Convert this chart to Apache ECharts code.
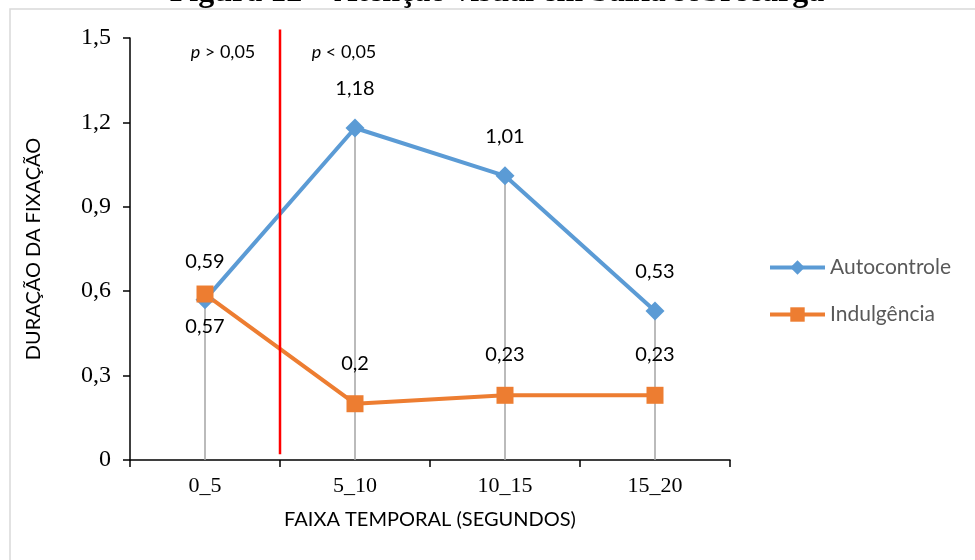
<!DOCTYPE html>
<html><head><meta charset="utf-8">
<script src="https://cdn.jsdelivr.net/npm/echarts@6/dist/echarts.min.js"></script>
<style>html,body{margin:0;padding:0;background:#fff}#c{width:975px;height:560px}</style>
</head><body><div id="c"></div>
<script>
const categories = ['0_5', '5_10', '10_15', '15_20'];
const autocontrole = [0.57, 1.18, 1.01, 0.53];
const indulgencia = [0.59, 0.2, 0.23, 0.23];
const yTicks = [0, 0.3, 0.6, 0.9, 1.2, 1.5];
const boundaryPos = 1; // red divider between 0_5 and 5_10
const dividerRange = [0.02, 1.53];

const fmt = v => String(v).replace('.', ',');
const dropVals = categories.map((c, i) => Math.max(autocontrole[i], indulgencia[i]));
const sans = 'Lato';
const serif = '"Liberation Serif", "Times New Roman", serif';

const chart = echarts.init(document.getElementById('c'), null, {renderer: 'canvas'});
chart.setOption({
  animation: false,
  backgroundColor: '#fff',
  graphic: [
    {type: 'rect', shape: {x: 10, y: 9, width: 1100, height: 700}, style: {fill: 'none', stroke: '#d9d9d9', lineWidth: 1.5}, z: 0},
    {type: 'text', x: 497, y: 9, style: {text: 'Figura 12 – Atenção visual em baixa sobrecarga', font: 'bold 32px ' + serif, fill: '#000', align: 'center', verticalAlign: 'bottom'}},
    {type: 'text', x: 223, y: 52, style: {text: '{i|p} > 0,05', rich: {i: {fontStyle: 'italic', fontFamily: sans, fontSize: 18, fill: '#000'}}, fontFamily: sans, fontSize: 18, fill: '#000', align: 'center', verticalAlign: 'middle'}},
    {type: 'text', x: 344, y: 52, style: {text: '{i|p} < 0,05', rich: {i: {fontStyle: 'italic', fontFamily: sans, fontSize: 18, fill: '#000'}}, fontFamily: sans, fontSize: 18, fill: '#000', align: 'center', verticalAlign: 'middle'}}
  ],
  grid: {left: 130, right: 245, top: 38, bottom: 100},
  legend: {
    orient: 'vertical', left: 763, top: 252, itemWidth: 55, itemHeight: 18, itemGap: 26,
    data: ['Autocontrole', 'Indulgência'],
    lineStyle: {width: 4},
    textStyle: {fontFamily: sans, fontSize: 21, color: '#595959'}
  },
  xAxis: [{
    type: 'category', data: categories, boundaryGap: true,
    name: 'FAIXA TEMPORAL (SEGUNDOS)', nameLocation: 'middle', nameGap: 50,
    nameTextStyle: {fontFamily: sans, fontSize: 20, color: '#000'},
    axisLine: {lineStyle: {color: '#000', width: 1.5}},
    axisTick: {show: true, alignWithLabel: false, length: 7, lineStyle: {color: '#000', width: 1.5}},
    axisLabel: {fontFamily: serif, fontSize: 22, color: '#000', margin: 15},
    splitLine: {show: false}
  }, {
    type: 'value', min: 0, max: 4, show: false, position: 'bottom'
  }],
  yAxis: {
    type: 'value', min: 0, max: 1.5, interval: 0.3,
    name: 'DURAÇÃO DA FIXAÇÃO', nameLocation: 'middle', nameGap: 86, nameRotate: 90,
    nameTextStyle: {fontFamily: sans, fontSize: 20, color: '#000'},
    axisLine: {show: true, lineStyle: {color: '#000', width: 1.5}},
    axisTick: {show: true, length: 7, lineStyle: {color: '#000', width: 1.5}},
    axisLabel: {fontFamily: serif, fontSize: 24, color: '#000', margin: 19,
      formatter: v => { const t = yTicks.find(x => Math.abs(x - v) < 1e-9); return t === 0 ? '0' : (t !== undefined ? t.toFixed(1).replace('.', ',') : ''); }},
    splitLine: {show: false}
  },
  series: [
    {
      name: 'drop', type: 'custom', z: 1, silent: true,
      data: dropVals.map((v, i) => [i, v]),
      renderItem: (params, api) => {
        const top = api.coord([api.value(0), api.value(1)]);
        const bot = api.coord([api.value(0), 0]);
        return {type: 'line', shape: {x1: top[0], y1: top[1], x2: bot[0], y2: bot[1]}, style: {stroke: '#A5A5A5', lineWidth: 1.5}};
      }
    },
    {
      name: 'Autocontrole', type: 'line', data: autocontrole.map((v, i) => i === 0 ? {value: v, label: {position: 'bottom', distance: 7}} : v),
      symbol: 'diamond', symbolSize: 19, z: 2,
      itemStyle: {color: '#5B9BD5'}, lineStyle: {color: '#5B9BD5', width: 4},
      label: {show: true, position: 'top', distance: 20, fontFamily: sans, fontSize: 20, color: '#000', formatter: p => fmt(p.value)}
    },
    {
      name: 'Indulgência', type: 'line', data: indulgencia.map((v, i) => i === 0 ? {value: v, label: {distance: 14}} : v),
      symbol: 'rect', symbolSize: 17, z: 2,
      itemStyle: {color: '#ED7D31'}, lineStyle: {color: '#ED7D31', width: 4},
      label: {show: true, position: 'top', distance: 22, fontFamily: sans, fontSize: 20, color: '#000', formatter: p => fmt(p.value)}
    },
    {
      name: 'divider', type: 'line', xAxisIndex: 1, clip: false, silent: true, symbol: 'none', z: 4,
      data: dividerRange.map(y => [boundaryPos, y]),
      lineStyle: {color: '#FF0000', width: 2.5}
    }
  ]
});
</script></body></html>
